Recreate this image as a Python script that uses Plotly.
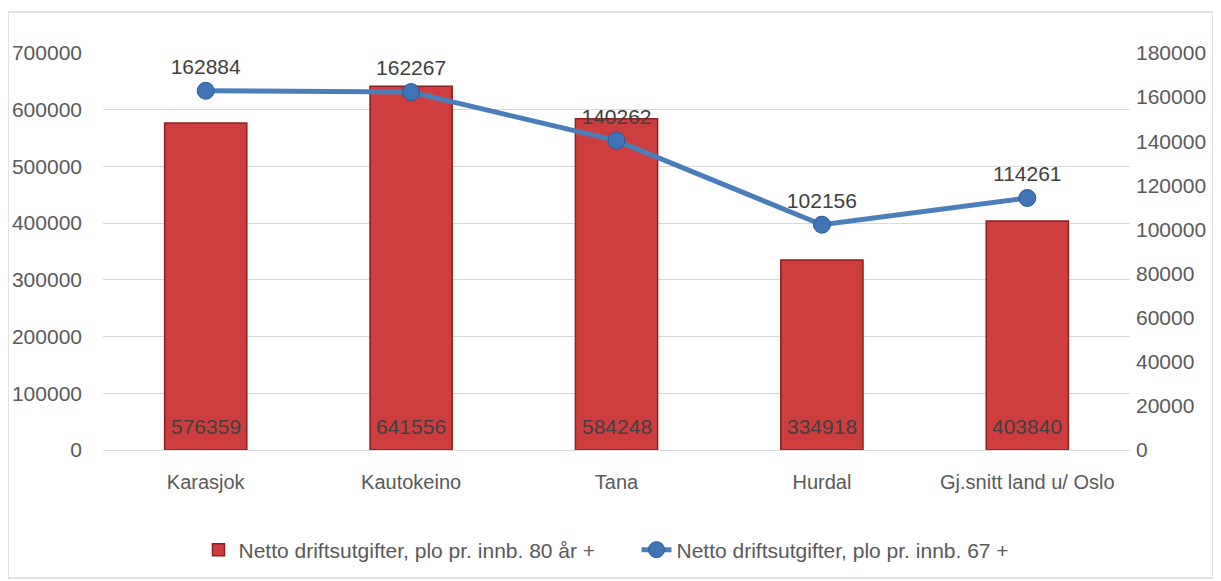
import plotly.graph_objects as go

categories = ["Karasjok", "Kautokeino", "Tana", "Hurdal", "Gj.snitt land u/ Oslo"]
bar_values = [576359, 641556, 584248, 334918, 403840]
line_values = [162884, 162267, 140262, 102156, 114261]
bar_name = "Netto driftsutgifter, plo pr. innb. 80 år +"
line_name = "Netto driftsutgifter, plo pr. innb. 67 +"

FONT = "Liberation Sans, Arial"
TXT = "#595959"
FS = 21

# figure is placed at (8,8) by the page body margin
W, H = 1213, 573
L, T, R, B = 95, 45, 91, 131
PW, PH = W - L - R, H - T - B

fig = go.Figure()
fig.add_trace(go.Bar(
    x=categories, y=bar_values, name=bar_name,
    marker=dict(color="#cf3e3e", line=dict(color="#8c1f1f", width=1.5)),
    width=0.4,
))
fig.add_trace(go.Scatter(
    x=categories, y=line_values, name=line_name, yaxis="y2",
    mode="lines+markers+text",
    line=dict(color="#4a7ebb", width=5),
    marker=dict(size=17, color="#3f74b8", line=dict(color="#2a5a9a", width=1)),
    text=[str(v) for v in line_values], textposition="top center",
    textfont=dict(size=FS, color="#404040", family=FONT),
))
for c, v in zip(categories, bar_values):
    fig.add_annotation(x=c, y=0, yref="y", text=str(v), showarrow=False,
                       yanchor="bottom", yshift=10,
                       font=dict(size=FS, color="#404040", family=FONT))

fig.update_layout(
    width=W, height=H,
    margin=dict(l=L, r=R, t=T, b=B, autoexpand=False),
    paper_bgcolor="white", plot_bgcolor="white",
    font=dict(family=FONT, color=TXT, size=FS),
    xaxis=dict(showgrid=False, showline=True, linecolor="#d9d9d9", linewidth=1,
               tickfont=dict(size=20, color=TXT), ticks="", ticklabelstandoff=14),
    yaxis=dict(range=[0, 700000], dtick=100000, tickformat="d", showgrid=True,
               gridcolor="#d9d9d9", gridwidth=1, zeroline=False,
               tickfont=dict(size=FS, color=TXT), ticklabelstandoff=20),
    yaxis2=dict(range=[0, 180000], dtick=20000, tickformat="d", overlaying="y",
                side="right", showgrid=False, zeroline=False,
                tickfont=dict(size=FS, color=TXT), ticklabelstandoff=5),
    legend=dict(orientation="h", x=0.5 + 20 / PW, xanchor="center", y=-100 / PH,
                yanchor="middle", font=dict(size=FS, color=TXT), traceorder="normal",
                entrywidth=393, entrywidthmode="pixels"),
    showlegend=True,
)
fig.add_shape(type="rect", xref="paper", yref="paper",
              x0=-L / PW, x1=(W - 8 - L) / PW, y0=-(B - 3) / PH, y1=(PH + T - 4) / PH,
              line=dict(color="#d9d9d9", width=1.5), fillcolor="rgba(0,0,0,0)", layer="below")

fig.write_html("out.html")
